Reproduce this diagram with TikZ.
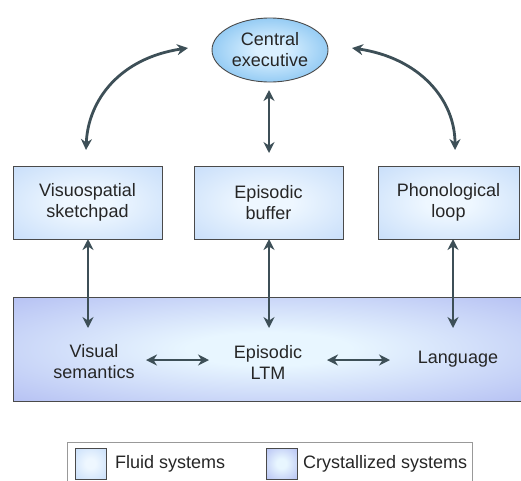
\documentclass[tikz,border=0pt]{standalone}
\usepackage{fontspec}
\setmainfont{Liberation Sans}
\usetikzlibrary{arrows.meta,shapes.geometric}
\definecolor{arrcol}{HTML}{3D4F57}
\definecolor{edgecol}{HTML}{4A4A4A}
\definecolor{fin}{RGB}{238,247,255}
\definecolor{fout}{RGB}{188,214,248}
\definecolor{cin}{RGB}{232,246,255}
\definecolor{cout}{RGB}{160,170,238}
\definecolor{ein}{RGB}{218,240,255}
\definecolor{eout}{RGB}{150,204,244}
\pgfdeclareradialshading{fluidsh}{\pgfpoint{0bp}{0bp}}{color(0bp)=(fin); color(8bp)=(fin); color(45bp)=(fout); color(50bp)=(fout)}
\pgfdeclareradialshading{crystsh}{\pgfpoint{0bp}{0bp}}{color(0bp)=(cin); color(8bp)=(cin); color(48bp)=(cout); color(50bp)=(cout)}
\pgfdeclareradialshading{ellsh}{\pgfpoint{0bp}{0bp}}{color(0bp)=(ein); color(6bp)=(ein); color(25bp)=(eout); color(50bp)=(eout)}
\tikzset{
  fluid/.style={draw=edgecol, line width=0.9pt, shading=fluidsh},
  cryst/.style={draw=edgecol, line width=0.9pt, shading=crystsh},
  lbl/.style={font=\fontsize{18}{21}\selectfont, align=center, text=black!85},
  arr/.style={draw=arrcol, line width=2.8pt, {Stealth[length=11pt,width=11pt]}-{Stealth[length=11pt,width=11pt]}},
}
\begin{document}
\begin{tikzpicture}[x=1pt,y=-1pt]
\useasboundingbox (0,0) rectangle (521,480);
% central executive
\node[ellipse, draw=edgecol, line width=0.9pt, minimum width=116pt, minimum height=64pt, inner sep=0pt, shading=ellsh, lbl] (ce) at (270,50) {Central\\executive};
% fluid boxes
\node[fluid, minimum width=149pt, minimum height=73pt, lbl] (vs) at (87.5,202.5) {Visuospatial\\sketchpad};
\node[fluid, minimum width=149pt, minimum height=73pt, lbl] (eb) at (268.5,202.5) {Episodic\\buffer};
\node[fluid, minimum width=141pt, minimum height=73pt, lbl] (pl) at (448.5,202.5) {Phonological\\loop};
% crystallized box
\node[cryst, minimum width=512pt, minimum height=104pt, inner sep=0pt] (ltm) at (269,349) {};
\node[lbl] (vsem) at (94,362) {Visual\\semantics};
\node[lbl] (eltm) at (268,362) {Episodic\\LTM};
\node[lbl] (lang) at (458,359) {Language};
% coordinates for arrow ends
\coordinate (cl) at (188,48);
\coordinate (cr) at (352,48);
\coordinate (vl) at (86,150);
\coordinate (vr) at (455,150);
\coordinate (cb) at (269,153);
\coordinate (ce2) at (269,90);
\coordinate (d1) at (88,328);
\coordinate (d2) at (269,328);
\coordinate (d3) at (453,328);
\coordinate (u1) at (88,239);
\coordinate (u2) at (269,239);
\coordinate (u3) at (453,239);
\coordinate (h1a) at (146,360);
\coordinate (h1b) at (209,360);
\coordinate (h2a) at (327,360);
\coordinate (h2b) at (390,360);
% arrows
\draw[arr] (cl) .. controls (120,58) and (88,100) .. (vl);
\draw[arr] (cr) .. controls (420,58) and (455,100) .. (vr);
\draw[arr] (ce2) -- (cb);
\draw[arr] (u1) -- (d1);
\draw[arr] (u2) -- (d2);
\draw[arr] (u3) -- (d3);
\draw[arr] (h1a) -- (h1b);
\draw[arr] (h2a) -- (h2b);
% legend
\draw[draw=gray!80, line width=0.9pt] (67,490) -- (67,442) -- (472,442) -- (472,490);
\node[fluid, line width=0.6pt, minimum size=31pt, inner sep=0pt] (lf) at (90.5,463.5) {};
\node[lbl, anchor=west, inner sep=0pt] (lft) at (115,464) {Fluid systems};
\node[cryst, line width=0.6pt, minimum size=31pt, inner sep=0pt] (lc) at (281.5,463.5) {};
\node[lbl, anchor=west, inner sep=0pt] (lct) at (303,464) {Crystallized systems};
\end{tikzpicture}
\end{document}
